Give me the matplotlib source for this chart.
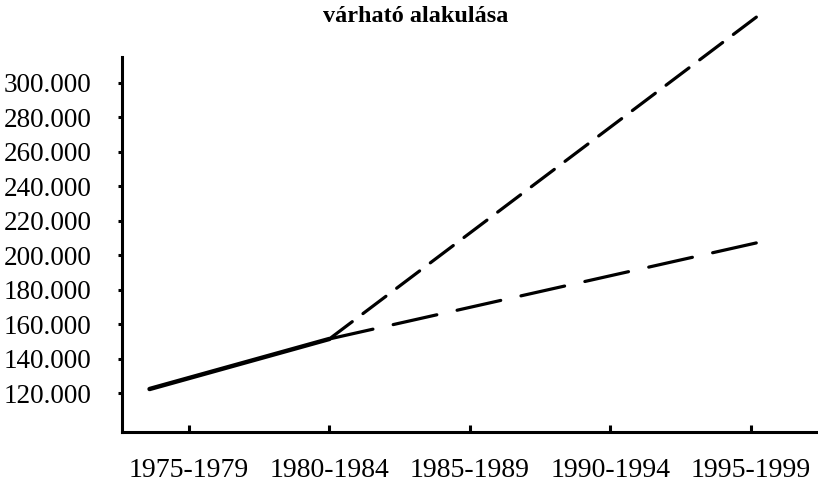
import matplotlib
matplotlib.use("Agg")
import matplotlib.pyplot as plt

plt.rcParams['font.family'] = ['Liberation Serif', 'DejaVu Serif']

# data (x: period index, y: persons)
periods = ['1975-1979', '1980-1984', '1985-1989', '1990-1994', '1995-1999']
y_ticks = [120000, 140000, 160000, 180000, 200000, 220000, 240000, 260000, 280000, 300000]
y_labels = ['120.000', '140.000', '160.000', '180.000', '200.000',
            '220.000', '240.000', '260.000', '280.000', '300.000']

actual_x = [-0.28, 1.0]
actual_y = [122500, 151500]

high_x = [1.0, 4.08]
high_y = [151500, 340400]

low_x = [1.0, 4.07]
low_y = [151500, 207700]

title = 'várható alakulása'

fig = plt.figure(figsize=(8.18, 4.83), dpi=100)
ax = fig.add_axes([0.149, 0.1056, 0.851, 0.7764])

ax.plot(actual_x, actual_y, color='black', lw=3.2, solid_capstyle='round', clip_on=False)
ax.plot(high_x, high_y, color='black', lw=2.3, dashes=[9, 4.2], dash_capstyle='round', clip_on=False)
ax.plot(low_x, low_y, color='black', lw=2.3, dashes=[14, 6.5], dash_capstyle='round', clip_on=False)

ax.set_xlim(-0.477, 4.48)
ax.set_ylim(97600, 314900)

ax.set_xticks(range(len(periods)))
ax.set_xticklabels(periods, fontsize=20)
ax.set_yticks(y_ticks)
ax.set_yticklabels(y_labels, fontsize=19.5)

ax.tick_params(axis='x', direction='in', length=5, width=2.2, pad=19)
ax.tick_params(axis='y', direction='out', length=3, width=2.2, pad=19)

for side in ['top', 'right']:
    ax.spines[side].set_visible(False)
for side in ['left', 'bottom']:
    ax.spines[side].set_linewidth(2.2)

fig.text(0.5086, 0.965, title, ha='center', va='center', fontsize=17.5, fontweight='bold')

fig.savefig('out.png', dpi=100)
